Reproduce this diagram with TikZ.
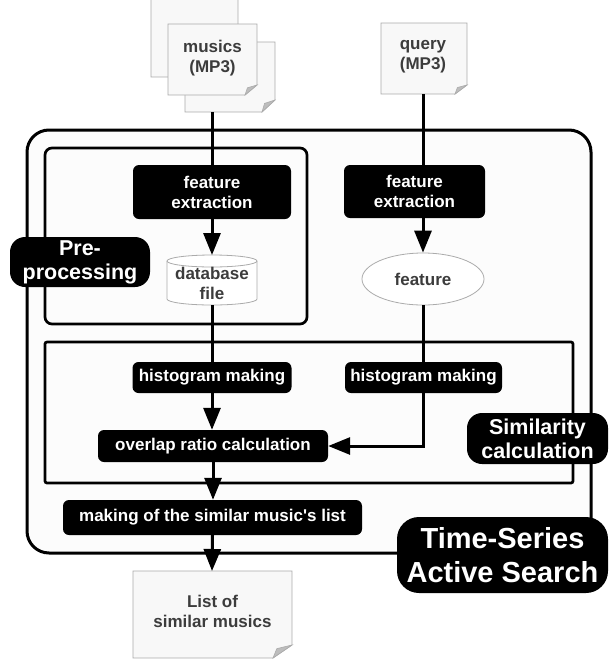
\documentclass[tikz,border=0pt]{standalone}
\usepackage{fontspec}
\setmainfont{Liberation Sans}
\usetikzlibrary{arrows.meta,shapes.geometric,calc}

\definecolor{docfill}{HTML}{F8F8F8}
\definecolor{docline}{HTML}{ABABAB}
\definecolor{foldfill}{HTML}{BDBDBD}
\definecolor{txtgray}{HTML}{3C3C3C}
\definecolor{panel}{HTML}{FCFCFC}

\tikzset{
  boxfont/.style={font=\fontsize{17}{20}\selectfont\bfseries},
  blackbox/.style={boxfont, fill=black, rounded corners=6pt, text=white,
    align=center, inner sep=0pt},
  tagbox/.style={fill=black, rounded corners=15pt, text=white, align=center,
    inner sep=0pt, font=\fontsize{21.5}{24}\selectfont\bfseries},
  bigtag/.style={tagbox, rounded corners=22pt,
    font=\fontsize{29}{34}\selectfont\bfseries},
  doctext/.style={boxfont, text=txtgray, align=center, inner sep=0pt},
  link/.style={line width=3pt, black},
  arr/.style={link, -{Triangle[length=22pt,width=17pt]}},
  frame/.style={line width=2.7pt, black},
  docedge/.style={draw=docline, fill=docfill, line width=0.8pt},
  foldedge/.style={draw=docline, fill=foldfill, line width=0.6pt},
}

% sheet of paper with a turned-up lower right corner:
% #1,#2 upper left, #3,#4 lower right, #5,#6 size of the fold
\newcommand\paperdoc[6]{%
  \path[docedge] (#1,#2) -- (#3,#2) -- (#3,#4-#6) -- (#3-#5,#4) -- (#1,#4) -- cycle;
  \path[foldedge] (#3,#4-#6) -- (#3-#5,#4) -- (#3-0.8*#5,#4-0.72*#6) -- cycle;
}

\begin{document}
\begin{tikzpicture}[x=1pt,y=-1pt]
\useasboundingbox (0,0) rectangle (610,662);
\clip (0,0) rectangle (610,662);

% frames
\draw[frame, line width=3pt, fill=panel, rounded corners=22pt] (27,130) rectangle (591,553);
\draw[frame, rounded corners=7pt] (45,148) rectangle (307,324);
\draw[frame, rounded corners=2pt] (45,342) rectangle (573,483);

% input and output documents
\paperdoc{151}{-6}{238}{77}{12}{10}
\paperdoc{185}{42}{275}{112}{13}{12}
\paperdoc{168}{24}{257}{95}{12}{10}
\node[doctext] (musics) at (212.5,58) {musics\\(MP3)};
\coordinate (musicsout) at (212,112);

\paperdoc{381}{23}{467}{94}{12}{9}
\node[doctext] (query) at (423,57) {query\\(MP3)};
\coordinate (queryout) at (423,94);

\paperdoc{133}{571}{292}{658}{19}{13}
\node[doctext] (result) at (212.5,611) {List of\\similar musics};
\coordinate (resultin) at (212,571);

% database cylinder
\path[docedge, fill=white] (167,261) -- (167,299)
  arc[start angle=180, end angle=360, x radius=45pt, y radius=6pt]
  -- (257,261)
  arc[start angle=0, end angle=180, x radius=45pt, y radius=6pt] -- cycle;
\draw[docline, line width=0.8pt] (167,261)
  arc[start angle=180, end angle=360, x radius=45pt, y radius=6pt];
\node[doctext] (db) at (212,283) {database\\file};
\coordinate (dbtop) at (212,255);
\coordinate (dbbot) at (212,305);

% process boxes
\node[blackbox, minimum width=158pt, minimum height=54pt] (fe1) at (212,192) {feature\\extraction};
\node[blackbox, minimum width=141pt, minimum height=53pt] (fe2) at (414.5,191.5) {feature\\extraction};
\node[ellipse, draw=docline, fill=white, line width=0.8pt, doctext,
  minimum width=122pt, minimum height=52pt] (feat) at (423,279) {feature};
\node[blackbox, minimum width=159pt, minimum height=31pt] (hist1) at (212,377.5) {histogram making};
\node[blackbox, minimum width=157pt, minimum height=31pt] (hist2) at (423.5,377.5) {histogram making};
\node[blackbox, minimum width=230pt, minimum height=32pt] (overlap) at (213,446) {overlap ratio calculation};
\node[blackbox, minimum width=299pt, minimum height=35pt] (mklist) at (212.5,517.5) {making of the similar music\textquotesingle s list};

% connectors
\draw[link] (musicsout) -- (musicsout |- fe1.north);
\draw[arr] (fe1.south) -- (dbtop);
\draw[link] (dbbot) -- (dbbot |- hist1.north);
\draw[arr] (hist1.south) -- (hist1.south |- overlap.north);
\draw[arr] (overlap.south) -- (overlap.south |- mklist.north);
\draw[arr] (mklist.south) -- (resultin);

\draw[link] (queryout) -- (queryout |- fe2.north);
\draw[arr] (fe2.south -| feat.north) -- (feat.north);
\draw[link] (feat.south) -- (feat.south |- hist2.north);
\draw[arr] (hist2.south) |- (overlap.east);

% section tags
\node[tagbox, minimum width=140pt, minimum height=50pt] (pretag) at (80,262) {Pre-\\processing};
\node[tagbox, minimum width=141pt, minimum height=51pt] (simtag) at (537.5,438.5) {Similarity\\calculation};
\node[bigtag, minimum width=211pt, minimum height=76pt] (tsastag) at (502.5,555) {Time-Series\\Active Search};
\end{tikzpicture}
\end{document}
